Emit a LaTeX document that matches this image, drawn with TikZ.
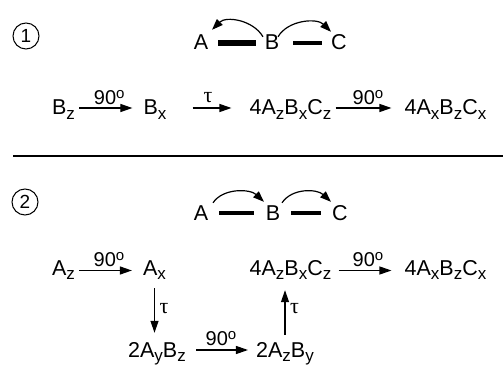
\documentclass[tikz,border=0pt]{standalone}
\usepackage{fontspec}
\setmainfont{Liberation Sans}
\newfontfamily\taufont{Liberation Serif}
\usetikzlibrary{arrows.meta,calc}
\newcommand\sbs[1]{\raisebox{-4.4pt}{\fontsize{17}{17}\selectfont #1}}
\newcommand\dgr{\raisebox{6pt}{\fontsize{15}{15}\selectfont o}}
\newcommand\tauT{{\taufont\fontsize{22}{22}\selectfont τ}}
\begin{document}
\begin{tikzpicture}[x=1pt,y=-1pt,
  every node/.style={font=\fontsize{21.5}{24}\selectfont, inner sep=0pt},
  chemA/.style={text height=14pt, text depth=0pt},
  chemB/.style={text height=9pt, text depth=0pt},
  rxn/.style={draw, line width=1.2pt, -{Triangle[length=12pt,width=8pt]}},
  arc/.style={draw, line width=1.2pt, -{Triangle[length=11pt,width=8pt]}},
  lbl/.style={font=\fontsize{20}{22}\selectfont, inner sep=1.5pt},
  num/.style={draw, circle, line width=1pt, minimum size=26pt, font=\fontsize{19}{20}\selectfont},
  thickbar/.style={line width=6pt},
  thinbar/.style={line width=3.5pt}
]
\useasboundingbox (0,0) rectangle (503,366);

% ---------- section 1 ----------
\node[num] (n1) at (26,36) {1};
\node[chemA] (A1) at (201,43) {A};
\node[chemA] (B1) at (272,43) {B};
\node[chemA] (C1) at (339,43) {C};
\draw[thickbar] ($(A1.east)+(10,0)$) -- ($(B1.west)+(-9,0)$);
\draw[thinbar] ($(B1.east)+(14,0)$) -- ($(C1.west)+(-9,0)$);
\coordinate (l1s) at ($(B1.north)+(-9,1)$);
\coordinate (l1e) at ($(A1.north)+(11,-6)$);
\coordinate (r1s) at ($(B1.north)+(6,1)$);
\coordinate (r1e) at ($(C1.north)+(-8,-4)$);
\draw[arc] (l1s) .. controls ($(l1s)+(-10,-17)$) and ($(l1e)+(14,-14)$) .. (l1e);
\draw[arc] (r1s) .. controls ($(r1s)+(10,-17)$) and ($(r1e)+(-14,-14)$) .. (r1e);

\node[chemA] (Bz) at (63.5,108) {B\sbs{z}};
\node[chemA] (Bx) at (155,108) {B\sbs{x}};
\node[chemA] (P1) at (290.5,108) {4A\sbs{z}B\sbs{x}C\sbs{z}};
\node[chemA] (Q1) at (445.5,108) {4A\sbs{x}B\sbs{z}C\sbs{x}};
\draw[rxn, shorten <=4pt, shorten >=11pt] (Bz.east) -- node[lbl, above=1pt] {90\dgr} (Bx.west);
\draw[rxn, shorten <=26pt, shorten >=18pt] (Bx.east) -- node[lbl, above=3pt] {\tauT} (P1.west);
\draw[rxn, shorten <=4pt, shorten >=13pt] (P1.east) -- node[lbl, above=1pt] {90\dgr} (Q1.west);

\coordinate (hl) at (13,156);
\coordinate (hr) at (503,156);
\draw[line width=1.5pt] (hl) -- (hr);

% ---------- section 2 ----------
\node[num] (n2) at (25,202) {2};
\node[chemA] (A2) at (201,213) {A};
\node[chemA] (B2) at (273,213) {B};
\node[chemA] (C2) at (340,213) {C};
\draw[thinbar] ($(A2.east)+(11,0)$) -- ($(B2.west)+(-12,0)$);
\draw[thinbar] ($(B2.east)+(11,0)$) -- ($(C2.west)+(-11,0)$);
\coordinate (l2s) at ($(A2.north)+(12,-3)$);
\coordinate (l2e) at ($(B2.north)+(-9,-4)$);
\coordinate (r2s) at ($(B2.north)+(9,-3)$);
\coordinate (r2e) at ($(C2.north)+(-9,-4)$);
\draw[arc] (l2s) .. controls ($(l2s)+(10,-15)$) and ($(l2e)+(-14,-13)$) .. (l2e);
\draw[arc] (r2s) .. controls ($(r2s)+(10,-15)$) and ($(r2e)+(-14,-13)$) .. (r2e);

\node[chemB] (Az) at (63.5,270.5) {A\sbs{z}};
\node[chemB] (Ax) at (154.5,270.5) {A\sbs{x}};
\node[chemB] (P2) at (290.5,270.5) {4A\sbs{z}B\sbs{x}C\sbs{z}};
\node[chemB] (Q2) at (445.5,270.5) {4A\sbs{x}B\sbs{z}C\sbs{x}};
\node[chemA] (Y2) at (157,350) {2A\sbs{y}B\sbs{z}};
\node[chemA] (Y3) at (285,350) {2A\sbs{z}B\sbs{y}};
\draw[rxn, shorten <=4pt, shorten >=11pt] (Az.east) -- node[lbl, above=2pt] {90\dgr} (Ax.west);
\draw[rxn, shorten <=7pt, shorten >=13pt] (P2.east) -- node[lbl, above=2pt] {90\dgr} (Q2.west);
\draw[rxn, shorten <=10pt, shorten >=8pt] (Y2.east) -- node[lbl, above=2pt] {90\dgr} (Y3.west);
\draw[rxn, shorten <=13pt, shorten >=10pt] (Ax.south) -- node[lbl, right=3pt] {\tauT} (Ax.south |- Y2.north);
\draw[rxn, shorten <=8pt, shorten >=15pt] (Y3.north) -- node[lbl, right=3pt] {\tauT} (Y3.north |- P2.south);
\end{tikzpicture}
\end{document}
